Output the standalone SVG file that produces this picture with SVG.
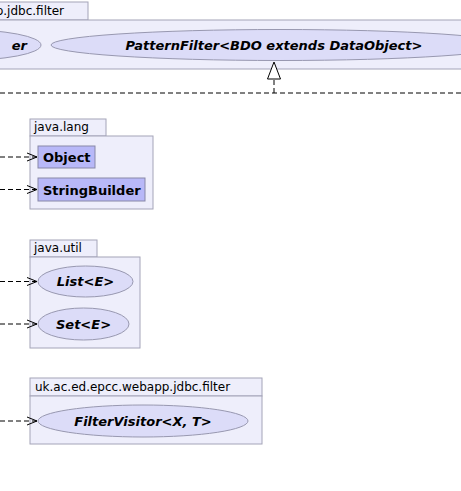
<svg xmlns="http://www.w3.org/2000/svg" width="461" height="491" viewBox="0 0 461 491">
<style>
.pkg{fill:#eeeefb;stroke:#a4a4b8;stroke-width:1}
.pl{font-family:"DejaVu Sans",sans-serif;font-size:12px;fill:#000}
.cls{fill:#b8b8f8;stroke:#8888a8;stroke-width:1}
.ifc{fill:#dcdcf8;stroke:#9898b0;stroke-width:1}
.cl{font-family:"DejaVu Sans",sans-serif;font-size:13px;font-weight:bold;fill:#000}
.it{font-style:italic}
.dep{fill:none;stroke:#000;stroke-width:1;stroke-dasharray:5,3}
.ah{fill:none;stroke:#000;stroke-width:1}
</style>
<rect width="461" height="491" fill="#ffffff"/>
<g id="pkg-top">
<rect class="pkg" x="-60" y="2" width="148" height="18"/>
<rect class="pkg" x="-60" y="20" width="540" height="49"/>
<text class="pl" x="64" y="15" text-anchor="end">uk.ac.ed.epcc.webapp.jdbc.filter</text>
</g>
<g id="node-left">
<ellipse class="ifc" cx="-40" cy="45" rx="81" ry="15.5"/>
<text class="cl it" x="27" y="50" text-anchor="end">er</text>
</g>
<g id="PatternFilter">
<ellipse class="ifc" cx="280" cy="45" rx="229" ry="15.5"/>
<text class="cl it" x="274" y="50" text-anchor="middle">PatternFilter&lt;BDO extends DataObject&gt;</text>
</g>
<g id="pkg-java-lang">
<rect class="pkg" x="30" y="119" width="76" height="17"/>
<rect class="pkg" x="30" y="136" width="123" height="73"/>
<text class="pl" x="34" y="131">java.lang</text>
</g>
<g id="Object">
<rect class="cls" x="38" y="146" width="57" height="22"/>
<text class="cl" x="43" y="162">Object</text>
</g>
<g id="StringBuilder">
<rect class="cls" x="38" y="178" width="107" height="23"/>
<text class="cl" x="43" y="194.5">StringBuilder</text>
</g>
<g id="pkg-java-util">
<rect class="pkg" x="30" y="240" width="67" height="17"/>
<rect class="pkg" x="30" y="257" width="110" height="91"/>
<text class="pl" x="34" y="252">java.util</text>
</g>
<g id="List">
<ellipse class="ifc" cx="85.5" cy="281.5" rx="47.5" ry="15.5"/>
<text class="cl it" x="85.5" y="286" text-anchor="middle">List&lt;E&gt;</text>
</g>
<g id="Set">
<ellipse class="ifc" cx="83.5" cy="324" rx="45.5" ry="16"/>
<text class="cl it" x="83.5" y="329" text-anchor="middle">Set&lt;E&gt;</text>
</g>
<g id="pkg-filter">
<rect class="pkg" x="30" y="378" width="232" height="18"/>
<rect class="pkg" x="30" y="396" width="232" height="48"/>
<text class="pl" x="35" y="391">uk.ac.ed.epcc.webapp.jdbc.filter</text>
</g>
<g id="FilterVisitor">
<ellipse class="ifc" cx="143" cy="421" rx="105" ry="16"/>
<text class="cl it" x="143" y="426" text-anchor="middle">FilterVisitor&lt;X, T&gt;</text>
</g>
<g id="connectors">
<path class="dep" d="M0,93 H461"/>
<path class="dep" d="M274,93 V79"/>
<path d="M274,62 L267.5,79 L280.5,79 Z" fill="#ffffff" stroke="#000" stroke-width="1"/>
<path class="dep" d="M0,157 H37"/>
<path class="ah" d="M27,153 L37,157 L27,161"/>
<path class="dep" d="M0,189.5 H37"/>
<path class="ah" d="M27,185.5 L37,189.5 L27,193.5"/>
<path class="dep" d="M0,281.5 H37"/>
<path class="ah" d="M27,277.5 L37,281.5 L27,285.5"/>
<path class="dep" d="M0,324 H37"/>
<path class="ah" d="M27,320 L37,324 L27,328"/>
<path class="dep" d="M0,421 H37"/>
<path class="ah" d="M27,417 L37,421 L27,425"/>
</g>
</svg>
